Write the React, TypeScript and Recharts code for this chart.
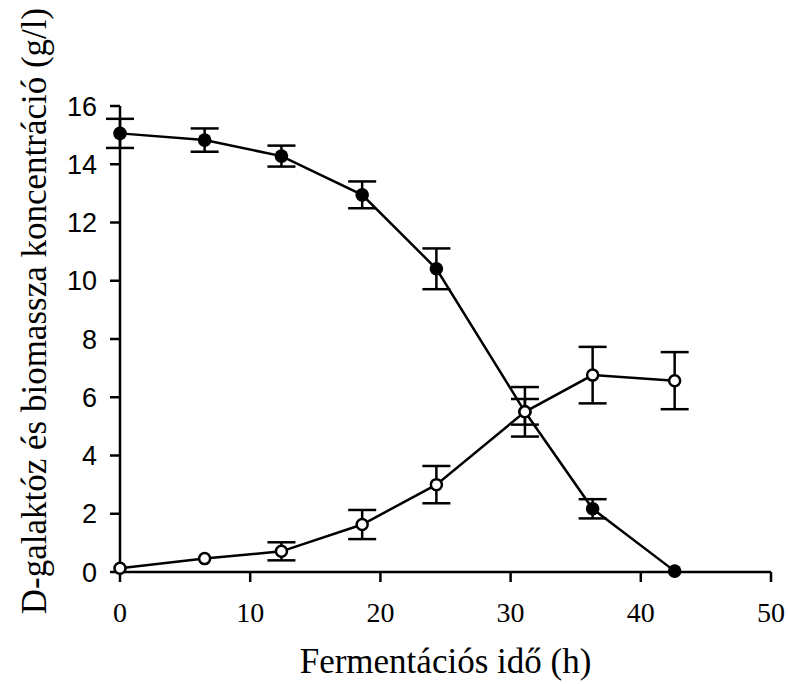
import {
  ErrorBar,
  Line,
  LineChart,
  XAxis,
  YAxis,
} from "recharts";

// fermentation time (h)
const hours = [0, 6.5, 12.4, 18.6, 24.3, 31.1, 36.3, 42.6];
// D-galactose (g/l) and its error
const galactose = [15.06, 14.83, 14.28, 12.95, 10.41, 5.5, 2.17, 0.03];
const galactoseErr = [0.5, 0.4, 0.36, 0.46, 0.7, 0.44, 0.33, 0];
// biomass (g/l) and its error
const biomass = [0.13, 0.46, 0.71, 1.63, 3.0, 5.5, 6.76, 6.57];
const biomassErr = [0, 0, 0.31, 0.5, 0.64, 0.85, 0.97, 0.98];

const xTicks = [0, 10, 20, 30, 40, 50];
const yTicks = [0, 2, 4, 6, 8, 10, 12, 14, 16];

const data = hours.map((h, i) => ({
  h,
  gal: galactose[i],
  galErr: galactoseErr[i],
  bio: biomass[i],
  bioErr: biomassErr[i],
}));

const serif = "'Liberation Serif', 'Times New Roman', serif";
const sans = "'Liberation Sans', Arial, sans-serif";
const sw = 2.5;

function FilledDot(props: any) {
  const { cx, cy } = props;
  if (cx == null || cy == null) return null;
  return <circle cx={cx} cy={cy} r={6.8} fill="#000" />;
}

function OpenDot(props: any) {
  const { cx, cy } = props;
  if (cx == null || cy == null) return null;
  return <circle cx={cx} cy={cy} r={5.5} fill="#fff" stroke="#000" strokeWidth={sw} />;
}

export default function App() {
  return (
    <div style={{ position: "absolute", left: 0, top: 0, background: "#fff" }}>
      <LineChart
        width={788}
        height={684}
        data={data}
        margin={{ top: 106, right: 17, bottom: 52, left: 60 }}
      >
        <XAxis
          dataKey="h"
          type="number"
          domain={[0, 50]}
          ticks={xTicks}
          height={60}
          tickSize={10}
          tickMargin={20}
          axisLine={{ stroke: "#000", strokeWidth: sw }}
          tickLine={{ stroke: "#000", strokeWidth: sw }}
          tick={{ fill: "#000", fontSize: 28, fontFamily: serif }}
          label={{
            content: () => (
              <text
                x={445.5}
                y={673}
                textAnchor="middle"
                fontSize={35}
                fontFamily={serif}
                fill="#000"
              >
                Fermentációs idő (h)
              </text>
            ),
          }}
        />
        <XAxis
          xAxisId="top"
          orientation="top"
          type="number"
          domain={[0, 50]}
          height={0}
          tick={false}
          tickLine={false}
          axisLine={{ stroke: "#000", strokeWidth: sw }}
        />
        <YAxis
          type="number"
          domain={[0, 16]}
          ticks={yTicks}
          width={60}
          tickSize={10}
          tickMargin={13}
          axisLine={{ stroke: "#000", strokeWidth: sw }}
          tickLine={{ stroke: "#000", strokeWidth: sw }}
          tick={{ fill: "#000", fontSize: 27, fontFamily: sans }}
          label={{
            content: () => (
              <text
                x={46}
                y={311}
                transform="rotate(-90, 46, 311)"
                textAnchor="middle"
                fontSize={35}
                fontFamily={serif}
                fill="#000"
              >
                D-galaktóz és biomassza koncentráció (g/l)
              </text>
            ),
          }}
        />
        <YAxis
          yAxisId="right"
          orientation="right"
          type="number"
          domain={[0, 16]}
          width={0}
          tick={false}
          tickLine={false}
          axisLine={{ stroke: "#000", strokeWidth: sw }}
        />
        <Line
          dataKey="gal"
          stroke="#000"
          strokeWidth={sw}
          dot={<FilledDot />}
          activeDot={false}
          isAnimationActive={false}
        >
          <ErrorBar dataKey="galErr" direction="y" width={14} stroke="#000" strokeWidth={sw} />
        </Line>
        <Line
          dataKey="bio"
          stroke="#000"
          strokeWidth={sw}
          dot={<OpenDot />}
          activeDot={false}
          isAnimationActive={false}
        >
          <ErrorBar dataKey="bioErr" direction="y" width={14} stroke="#000" strokeWidth={sw} />
        </Line>
      </LineChart>
    </div>
  );
}
